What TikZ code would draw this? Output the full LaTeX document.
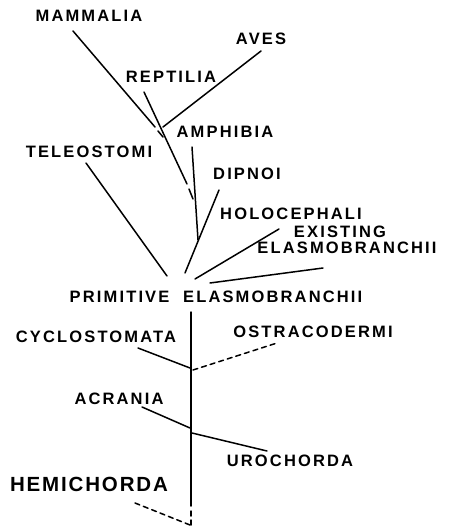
\documentclass[tikz,border=0pt]{standalone}
\usepackage{fontspec}
\setmainfont{Liberation Sans}
\newfontfamily\labfont[LetterSpace=13]{Liberation Sans Bold}
\newfontfamily\bigfont[LetterSpace=9]{Liberation Sans Bold}
\begin{document}
\begin{tikzpicture}[x=1pt,y=-1pt,
  lab/.style={inner sep=0pt, font=\labfont\fontsize{16.5}{18}\selectfont},
  big/.style={inner sep=0pt, font=\bigfont\fontsize{20.5}{22}\selectfont},
  br/.style={line width=1.5pt, line cap=round},
  dsh/.style={br, dash pattern=on 5pt off 4pt}]
\useasboundingbox (0,0) rectangle (459,527);
% labels
\node[lab] (mam) at (89,16) {MAMMALIA};
\node[lab] (ave) at (261,39) {AVES};
\node[lab] (rep) at (171,77) {REPTILIA};
\node[lab] (amp) at (225,132) {AMPHIBIA};
\node[lab] (tel) at (89,152) {TELEOSTOMI};
\node[lab] (dip) at (247,174) {DIPNOI};
\node[lab] (hol) at (291,214) {HOLOCEPHALI};
\node[lab] (exi) at (340,232) {EXISTING};
\node[lab] (ela) at (347,248) {ELASMOBRANCHII};
\node[lab] (pri) at (216,297) {PRIMITIVE\hspace{7pt} ELASMOBRANCHII};
\node[lab] (cyc) at (96,337) {CYCLOSTOMATA};
\node[lab] (ost) at (313,332) {OSTRACODERMI};
\node[lab] (acr) at (119,399) {ACRANIA};
\node[lab] (uro) at (290,461) {UROCHORDA};
\node[big] (hem) at (89,484) {HEMICHORDA};
% endpoints
\coordinate (mamA) at (73,31);  \coordinate (mamB) at (155,127);
\coordinate (mamC) at (158,131); \coordinate (mamD) at (163,137);
\coordinate (aveA) at (261,51); \coordinate (aveB) at (163,127);
\coordinate (repA) at (144,92); \coordinate (repB) at (187,184);
\coordinate (repC) at (189,189); \coordinate (repD) at (193,199);
\coordinate (ampA) at (192,147); \coordinate (ampB) at (198,240);
\coordinate (dipA) at (219,190); \coordinate (dipB) at (185,273);
\coordinate (telA) at (86,163); \coordinate (telB) at (167,276);
\coordinate (holA) at (279,229); \coordinate (holB) at (195,279);
\coordinate (exiA) at (323,268); \coordinate (exiB) at (210,283);
\coordinate (mainA) at (191,312); \coordinate (mainB) at (191,506);
\coordinate (mainC) at (191,511); \coordinate (mainD) at (191,525);
\coordinate (cycA) at (138,348); \coordinate (cycB) at (190,368);
\coordinate (ostA) at (193,370); \coordinate (ostB) at (277,343);
\coordinate (acrA) at (142,407); \coordinate (acrB) at (190,428);
\coordinate (uroA) at (192,433); \coordinate (uroB) at (267,451);
\coordinate (hemA) at (135,503); \coordinate (hemB) at (190,525);
% branches
\draw[br] (mamA) -- (mamB);
\draw[br] (mamC) -- (mamD);
\draw[br] (aveA) -- (aveB);
\draw[br] (repA) -- (repB);
\draw[br] (repC) -- (repD);
\draw[br] (ampA) -- (ampB);
\draw[br] (dipA) -- (dipB);
\draw[br] (telA) -- (telB);
\draw[br] (holA) -- (holB);
\draw[br] (exiA) -- (exiB);
\draw[br] (mainA) -- (mainB);
\draw[dsh] (mainC) -- (mainD);
\draw[br] (cycA) -- (cycB);
\draw[dsh] (ostA) -- (ostB);
\draw[br] (acrA) -- (acrB);
\draw[br] (uroA) -- (uroB);
\draw[dsh] (hemA) -- (hemB);
\end{tikzpicture}
\end{document}
